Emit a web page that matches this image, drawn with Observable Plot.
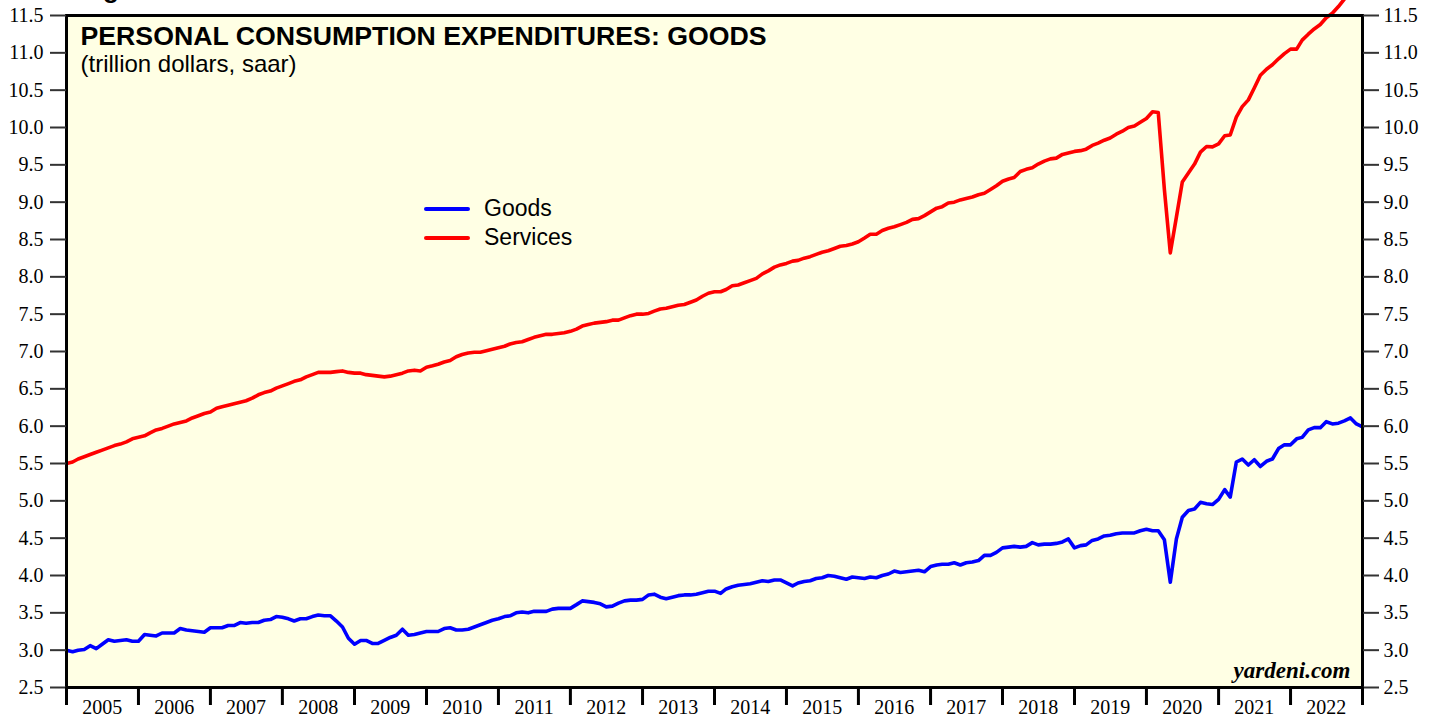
<!DOCTYPE html>
<html>
<head>
<meta charset="utf-8">
<script src="https://cdn.jsdelivr.net/npm/d3@7"></script>
<script src="https://cdn.jsdelivr.net/npm/@observablehq/plot@0.6"></script>
<style>
  html, body { margin: 0; padding: 0; background: #ffffff; }
  #wrap { position: relative; width: 1439px; height: 719px; overflow: hidden; }
  #fig { position: absolute; left: 80px; top: -24px; font: bold 26px "Liberation Sans", Arial, sans-serif; line-height: 26px; color: #000; white-space: nowrap; }
  #legend { position: absolute; left: 424px; top: 194px; font: 23px "Liberation Sans", Arial, sans-serif; color: #000; }
  .row { display: flex; align-items: center; height: 29px; }
  .sw { width: 46px; height: 4px; margin-right: 14px; border-radius: 2px; }
</style>
</head>
<body>
<div id="wrap"></div>
<script>
// ---- data (monthly, first point = start of Jan 2005) ----
const startYear = 2005;
const startMonth = 0;

const goods = [
  3.00, 2.98, 3.00, 3.01, 3.06, 3.02, 3.08, 3.14, 3.12, 3.13, 3.14, 3.12,
  3.12, 3.21, 3.20, 3.19, 3.23, 3.23, 3.23, 3.29, 3.27, 3.26, 3.25, 3.24,
  3.30, 3.30, 3.30, 3.33, 3.33, 3.37, 3.36, 3.37, 3.37, 3.40, 3.41, 3.45,
  3.44, 3.42, 3.39, 3.42, 3.42, 3.45, 3.47, 3.46, 3.46, 3.39, 3.31, 3.16,
  3.08, 3.13, 3.13, 3.09, 3.09, 3.13, 3.17, 3.20, 3.28, 3.20, 3.21, 3.23,
  3.25, 3.25, 3.25, 3.29, 3.30, 3.27, 3.27, 3.28, 3.31, 3.34, 3.37, 3.40,
  3.42, 3.45, 3.46, 3.50, 3.51, 3.50, 3.52, 3.52, 3.52, 3.55, 3.56, 3.56,
  3.56, 3.61, 3.66, 3.65, 3.64, 3.62, 3.58, 3.59, 3.63, 3.66, 3.67, 3.67,
  3.68, 3.74, 3.75, 3.71, 3.69, 3.71, 3.73, 3.74, 3.74, 3.75, 3.77, 3.79,
  3.79, 3.76, 3.82, 3.85, 3.87, 3.88, 3.89, 3.91, 3.93, 3.92, 3.94, 3.94,
  3.90, 3.86, 3.90, 3.92, 3.93, 3.96, 3.97, 4.00, 3.99, 3.97, 3.95, 3.98,
  3.97, 3.96, 3.98, 3.97, 4.00, 4.02, 4.06, 4.04, 4.05, 4.06, 4.07, 4.05,
  4.12, 4.14, 4.15, 4.15, 4.17, 4.14, 4.17, 4.18, 4.20, 4.27, 4.27, 4.31,
  4.37, 4.38, 4.39, 4.38, 4.39, 4.44, 4.41, 4.42, 4.42, 4.43, 4.45, 4.49,
  4.37, 4.40, 4.41, 4.47, 4.49, 4.53, 4.54, 4.56, 4.57, 4.57, 4.57, 4.60,
  4.62, 4.60, 4.60, 4.48, 3.91, 4.49, 4.78, 4.87, 4.89, 4.98, 4.96, 4.95,
  5.02, 5.15, 5.05, 5.52, 5.56, 5.48, 5.55, 5.46, 5.53, 5.56, 5.70, 5.75,
  5.75, 5.83, 5.85, 5.95, 5.98, 5.98, 6.06, 6.03, 6.04, 6.07, 6.11, 6.03,
  5.99
];

const services = [
  5.50, 5.52, 5.56, 5.59, 5.62, 5.65, 5.68, 5.71, 5.74, 5.76, 5.79, 5.83,
  5.85, 5.87, 5.91, 5.95, 5.97, 6.00, 6.03, 6.05, 6.07, 6.11, 6.14, 6.17,
  6.19, 6.24, 6.26, 6.28, 6.30, 6.32, 6.34, 6.375, 6.42, 6.45, 6.47, 6.51,
  6.54, 6.57, 6.60, 6.62, 6.66, 6.69, 6.72, 6.72, 6.72, 6.73, 6.74, 6.72,
  6.71, 6.71, 6.69, 6.68, 6.67, 6.66, 6.67, 6.69, 6.71, 6.74, 6.75, 6.74,
  6.79, 6.81, 6.83, 6.86, 6.88, 6.93, 6.96, 6.98, 6.99, 6.99, 7.01, 7.03,
  7.05, 7.07, 7.10, 7.12, 7.13, 7.16, 7.19, 7.21, 7.23, 7.23, 7.24, 7.25,
  7.27, 7.30, 7.34, 7.36, 7.38, 7.39, 7.40, 7.42, 7.42, 7.45, 7.48, 7.50,
  7.50, 7.51, 7.54, 7.57, 7.58, 7.60, 7.62, 7.63, 7.66, 7.69, 7.74, 7.78,
  7.80, 7.80, 7.83, 7.88, 7.89, 7.92, 7.95, 7.98, 8.04, 8.08, 8.13, 8.16,
  8.18, 8.21, 8.22, 8.25, 8.27, 8.30, 8.33, 8.35, 8.38, 8.41, 8.42, 8.44,
  8.47, 8.52, 8.57, 8.57, 8.62, 8.65, 8.67, 8.70, 8.73, 8.77, 8.78, 8.82,
  8.87, 8.92, 8.94, 8.99, 9.00, 9.03, 9.05, 9.07, 9.10, 9.12, 9.17, 9.22,
  9.28, 9.31, 9.33, 9.41, 9.44, 9.46, 9.51, 9.55, 9.58, 9.59, 9.64, 9.66,
  9.68, 9.69, 9.71, 9.76, 9.79, 9.83, 9.86, 9.91, 9.95, 10.00, 10.02, 10.07,
  10.12, 10.21, 10.20, 9.17, 8.32, 8.80, 9.27, 9.39, 9.51, 9.67, 9.745, 9.74,
  9.78, 9.89, 9.90, 10.14, 10.28, 10.37, 10.53, 10.70, 10.78, 10.84, 10.92, 10.99,
  11.05, 11.05, 11.17, 11.25, 11.32, 11.38, 11.47, 11.53, 11.62, 11.72, 11.80, 11.86,
  11.92
];

const yearLabels = ["2005","2006","2007","2008","2009","2010","2011","2012","2013",
                    "2014","2015","2016","2017","2018","2019","2020","2021","2022"];
const yTicks = [2.5, 3.0, 3.5, 4.0, 4.5, 5.0, 5.5, 6.0, 6.5, 7.0, 7.5, 8.0, 8.5, 9.0, 9.5, 10.0, 10.5, 11.0, 11.5];
const seriesNames = ["Goods", "Services"];
const seriesColors = ["#0000ff", "#ff0000"];
const titleText = "PERSONAL CONSUMPTION EXPENDITURES: GOODS";
const subtitleText = "(trillion dollars, saar)";
const sourceText = "yardeni.com";

// ---- build tables ----
const monthDate = i => new Date(Date.UTC(startYear, startMonth + i, 1));
const goodsData = goods.map((v, i) => ({date: monthDate(i), value: v}));
const servicesData = services.map((v, i) => ({date: monthDate(i), value: v}));
const yearStarts = yearLabels.map(y => new Date(Date.UTC(+y, 0, 1))).concat([new Date(Date.UTC(+yearLabels[yearLabels.length - 1] + 1, 0, 1))]);
const yearMids = yearLabels.map(y => new Date(Date.UTC(+y, 6, 1)));

const serif = "'Liberation Serif', 'Times New Roman', serif";
const sans = "'Liberation Sans', Arial, Helvetica, sans-serif";

const chart = Plot.plot({
  width: 1439,
  height: 719,
  marginLeft: 66,
  marginRight: 77,
  marginTop: 15,
  marginBottom: 32,
  style: {fontFamily: serif, fontSize: "20px", color: "#000", background: "transparent"},
  x: {type: "utc", domain: [yearStarts[0], yearStarts[yearStarts.length - 1]]},
  y: {domain: [yTicks[0], yTicks[yTicks.length - 1]]},
  marks: [
    Plot.frame({fill: "#ffffe4", stroke: "none"}),
    Plot.line(servicesData, {x: "date", y: "value", stroke: seriesColors[1], strokeWidth: 3.6, strokeLinejoin: "round"}),
    Plot.line(goodsData, {x: "date", y: "value", stroke: seriesColors[0], strokeWidth: 3.6, strokeLinejoin: "round"}),
    Plot.frame({stroke: "#000", strokeWidth: 3}),
    Plot.axisY({anchor: "left", ticks: yTicks, tickSize: 16, tickPadding: 7, tickFormat: d => d.toFixed(1),
      label: null, stroke: "#333", strokeWidth: 2, fill: "#000", fontSize: 20}),
    Plot.axisY({anchor: "right", ticks: yTicks, tickSize: 16, tickPadding: 5, tickFormat: d => d.toFixed(1),
      label: null, stroke: "#333", strokeWidth: 2, fill: "#000", fontSize: 20}),
    Plot.axisX({anchor: "bottom", ticks: yearStarts, tickSize: 18, tickFormat: () => "",
      label: null, stroke: "#000", strokeWidth: 3}),
    Plot.axisX({anchor: "bottom", ticks: yearMids, tickSize: 0, tickPadding: 12,
      tickFormat: d => yearLabels[d.getUTCFullYear() - startYear], label: null, fill: "#000", fontSize: 20}),
    Plot.text([titleText], {text: d => d, frameAnchor: "top-left", dx: 14, dy: 11, lineAnchor: "top",
      textAnchor: "start", fontFamily: sans, fontWeight: "bold", fontSize: 26.7, fill: "#000"}),
    Plot.text([subtitleText], {text: d => d, frameAnchor: "top-left", dx: 14, dy: 39, lineAnchor: "top",
      textAnchor: "start", fontFamily: sans, fontSize: 24, fill: "#000"}),
    Plot.text([sourceText], {text: d => d, frameAnchor: "bottom-right", dx: -12, dy: -10, lineAnchor: "bottom",
      textAnchor: "end", fontFamily: serif, fontWeight: "bold", fontStyle: "italic", fontSize: 23, fill: "#000"})
  ]
});

const wrap = document.getElementById("wrap");
wrap.appendChild(chart);

const fig = document.createElement("div");
fig.id = "fig";
fig.textContent = "Figure 1.";
wrap.appendChild(fig);

const legend = document.createElement("div");
legend.id = "legend";
seriesNames.forEach((name, i) => {
  const row = document.createElement("div");
  row.className = "row";
  const sw = document.createElement("span");
  sw.className = "sw";
  sw.style.background = seriesColors[i];
  const label = document.createElement("span");
  label.textContent = name;
  row.appendChild(sw);
  row.appendChild(label);
  legend.appendChild(row);
});
wrap.appendChild(legend);
</script>
</body>
</html>
